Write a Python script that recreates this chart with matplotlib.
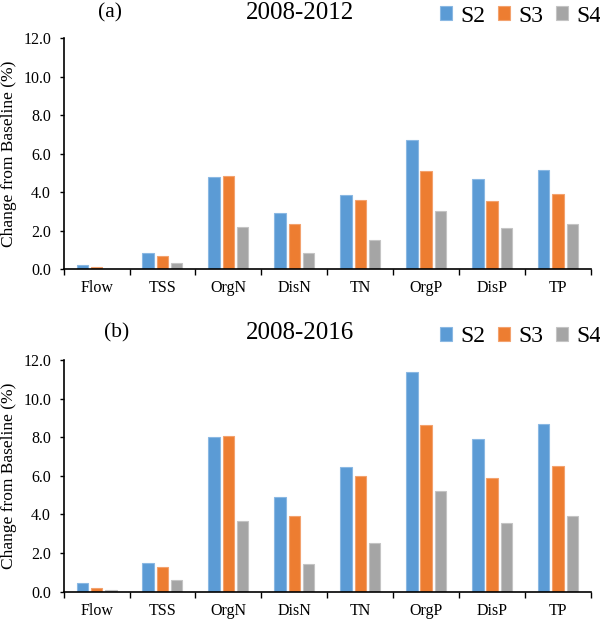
import matplotlib
matplotlib.use("Agg")
import matplotlib.pyplot as plt
import numpy as np

plt.rcParams['font.family'] = ['Liberation Serif', 'DejaVu Serif']

categorias = ["Flow", "TSS", "OrgN", "DisN", "TN", "OrgP", "DisP", "TP"]
escenarios = ["S2", "S3", "S4"]
colores = ["#5B9BD5", "#ED7D31", "#A5A5A5"]
bordes = ["#8AB8E3", "#F3A26E", "#C4C4C4"]

# 2008-2012
a_s2 = [0.25, 0.84, 4.80, 2.92, 3.85, 6.70, 4.68, 5.15]
a_s3 = [0.10, 0.70, 4.85, 2.33, 3.59, 5.11, 3.54, 3.90]
a_s4 = [0.04, 0.34, 2.19, 0.85, 1.54, 3.04, 2.14, 2.35]

# 2008-2016
b_s2 = [0.43, 1.47, 8.00, 4.92, 6.44, 11.36, 7.89, 8.70]
b_s3 = [0.17, 1.30, 8.05, 3.92, 5.98, 8.62, 5.87, 6.53]
b_s4 = [0.09, 0.62, 3.66, 1.42, 2.52, 5.22, 3.58, 3.94]

paneles = [
    ("(a)", "2008-2012", [a_s2, a_s3, a_s4]),
    ("(b)", "2008-2016", [b_s2, b_s3, b_s4]),
]

fig = plt.figure(figsize=(6.0, 6.2), dpi=100)

# posiciones de los ejes en fraccion de figura
ejes_pos = [
    [0.106, 0.5656, 0.879, 0.3726],
    [0.106, 0.0456, 0.879, 0.3737],
]
y_titulo = [1 - 13 / 620, 1 - 333 / 620]
y_leyenda = [1 - 16 / 620, 1 - 337 / 620]
x_letra = [110 / 600, 117 / 600]

centros = np.arange(len(categorias)) + 0.5
paso = 0.217
ancho = 0.173

for i, (letra, titulo, series) in enumerate(paneles):
    ax = fig.add_axes(ejes_pos[i])
    barras = []
    for j, valores in enumerate(series):
        b = ax.bar(centros + (j - 1) * paso, valores, width=ancho,
                   color=colores[j], edgecolor=bordes[j], linewidth=0.8,
                   label=escenarios[j])
        barras.append(b)

    ax.set_xlim(0, len(categorias))
    ax.set_ylim(0, 12)
    ax.set_yticks(np.arange(0, 12.1, 2))
    ax.set_yticklabels(["%.1f" % v for v in np.arange(0, 12.1, 2)], fontsize=11.5)
    ax.set_xticks(np.arange(0, len(categorias) + 1))
    ax.set_xticklabels([])
    ax.set_xticks(centros, minor=True)
    ax.set_xticklabels(categorias, minor=True, fontsize=11.5)
    ax.tick_params(axis='x', which='major', direction='out', length=4, width=1)
    ax.tick_params(axis='x', which='minor', length=0, pad=8)
    ax.tick_params(axis='y', direction='out', length=3, width=1, pad=6)

    ax.spines['top'].set_visible(False)
    ax.spines['right'].set_visible(False)
    ax.spines['left'].set_linewidth(1.2)
    ax.spines['bottom'].set_linewidth(1.2)

    ax.set_ylabel("Change from Baseline (%)", fontsize=12.5)
    ax.yaxis.set_label_coords(-0.088, 0.5)

    fig.text(x_letra[i], y_titulo[i], letra, fontsize=15.5, ha='center', va='center')
    fig.text(0.5, y_titulo[i], titulo, fontsize=18, ha='center', va='center')

    fig.legend(handles=barras, labels=escenarios, ncol=3, frameon=False,
               loc='center left', bbox_to_anchor=(440 / 600, y_leyenda[i]),
               fontsize=17, handlelength=0.5, handleheight=0.5,
               handletextpad=0.35, columnspacing=0.55, borderpad=0,
               borderaxespad=0)

plt.savefig("out.png", dpi=100)
